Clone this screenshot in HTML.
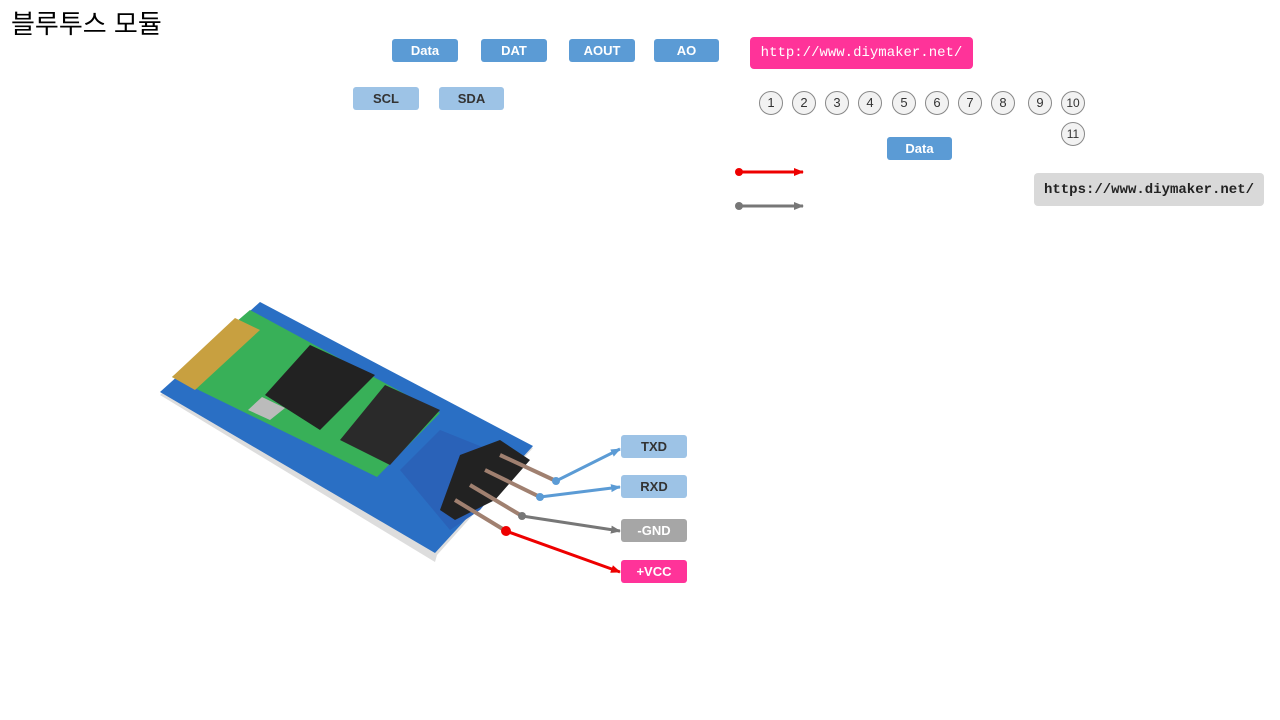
<!DOCTYPE html>
<html><head><meta charset="utf-8"><style>
body{margin:0;width:1280px;height:720px;background:#fff;position:relative;overflow:hidden;font-family:"Liberation Sans","Noto Sans CJK KR",sans-serif}
.b{position:absolute;border-radius:3px;color:#fff;font-size:13px;font-weight:bold;text-align:center;line-height:23px;height:23px}
.d{background:#5b9bd5}
.l{background:#9dc3e6;color:#333}
.c{position:absolute;width:22px;height:22px;border:1px solid #888;border-radius:50%;background:#f2f2f2;font-size:13px;text-align:center;line-height:22px;color:#333}
</style></head><body>
<div style="position:absolute;left:11px;top:4px;font-size:26px;color:#000">블루투스 모듈</div>
<div class="b d" style="left:392px;top:39px;width:66px">Data</div>
<div class="b d" style="left:481px;top:39px;width:66px">DAT</div>
<div class="b d" style="left:569px;top:39px;width:66px">AOUT</div>
<div class="b d" style="left:654px;top:39px;width:65px">AO</div>
<div class="b l" style="left:353px;top:87px;width:66px">SCL</div>
<div class="b l" style="left:439px;top:87px;width:65px">SDA</div>
<div style="position:absolute;left:750px;top:37px;width:223px;height:32px;background:#ff3399;border-radius:4px;color:#fff;font-family:'Liberation Mono',monospace;font-size:14px;line-height:33px;text-align:center">http://www.diymaker.net/</div>
<div class="c" style="left:759px;top:91px">1</div>
<div class="c" style="left:792px;top:91px">2</div>
<div class="c" style="left:825px;top:91px">3</div>
<div class="c" style="left:858px;top:91px">4</div>
<div class="c" style="left:892px;top:91px">5</div>
<div class="c" style="left:925px;top:91px">6</div>
<div class="c" style="left:958px;top:91px">7</div>
<div class="c" style="left:991px;top:91px">8</div>
<div class="c" style="left:1028px;top:91px">9</div>
<div class="c" style="left:1061px;top:91px;font-size:12px">10</div>
<div class="c" style="left:1061px;top:122px;font-size:12px">11</div>
<div class="b d" style="left:887px;top:137px;width:65px">Data</div>
<div style="position:absolute;left:1034px;top:173px;width:230px;height:33px;background:#d9d9d9;border-radius:4px;color:#222;font-family:'Liberation Mono',monospace;font-weight:bold;font-size:14px;line-height:35px;text-align:center">https://www.diymaker.net/</div>
<div class="b l" style="left:621px;top:435px;width:66px">TXD</div>
<div class="b l" style="left:621px;top:475px;width:66px">RXD</div>
<div class="b" style="left:621px;top:519px;width:66px;background:#a6a6a6">-GND</div>
<div class="b" style="left:621px;top:560px;width:66px;background:#ff3399">+VCC</div>
<svg width="1280" height="720" style="position:absolute;left:0;top:0">
<defs>
<marker id="ar" markerWidth="10" markerHeight="10" refX="9" refY="5" orient="auto" markerUnits="userSpaceOnUse"><path d="M0,1L10,5L0,9z" fill="#e00"/></marker>
<marker id="ag" markerWidth="10" markerHeight="10" refX="9" refY="5" orient="auto" markerUnits="userSpaceOnUse"><path d="M0,1L10,5L0,9z" fill="#777"/></marker>
<marker id="ab" markerWidth="10" markerHeight="10" refX="9" refY="5" orient="auto" markerUnits="userSpaceOnUse"><path d="M0,1L10,5L0,9z" fill="#5b9bd5"/></marker>
</defs>
<line x1="739" y1="172" x2="803" y2="172" stroke="#e00" stroke-width="3" marker-end="url(#ar)"/><circle cx="739" cy="172" r="4" fill="#e00"/>
<line x1="739" y1="206" x2="803" y2="206" stroke="#777" stroke-width="3" marker-end="url(#ag)"/><circle cx="739" cy="206" r="4" fill="#777"/>
<polygon points="160,395 260,302 533,448 437,555 435,562" fill="#ddd"/>
<polygon points="160,392 260,302 533,446 435,553" fill="#2a6fc4"/>
<polygon points="172,377 250,310 440,413 377,477" fill="#38b058"/>
<polygon points="172,377 235,318 260,330 195,390" fill="#c8a040"/>
<polygon points="265,395 310,345 375,375 320,430" fill="#222"/>
<polygon points="340,440 385,385 440,410 390,465" fill="#2a2a2a"/>
<polygon points="248,410 262,397 285,408 270,420" fill="#bbb"/>
<polygon points="400,470 440,430 520,462 480,510 450,530" fill="#2a62b8"/>
<polygon points="460,455 500,440 530,460 495,500 455,520 440,510" fill="#222"/>
<g stroke="#a08070" stroke-width="4">
<line x1="500" y1="455" x2="556" y2="481"/><line x1="485" y1="470" x2="540" y2="497"/>
<line x1="470" y1="485" x2="522" y2="516"/><line x1="455" y1="500" x2="506" y2="531"/>
</g>
<line x1="556" y1="481" x2="620" y2="449" stroke="#5b9bd5" stroke-width="3" marker-end="url(#ab)"/><circle cx="556" cy="481" r="4" fill="#5b9bd5"/>
<line x1="540" y1="497" x2="620" y2="487" stroke="#5b9bd5" stroke-width="3" marker-end="url(#ab)"/><circle cx="540" cy="497" r="4" fill="#5b9bd5"/>
<line x1="522" y1="516" x2="620" y2="531" stroke="#777" stroke-width="3" marker-end="url(#ag)"/><circle cx="522" cy="516" r="4" fill="#777"/>
<line x1="506" y1="531" x2="620" y2="572" stroke="#e00" stroke-width="3" marker-end="url(#ar)"/><circle cx="506" cy="531" r="5" fill="#e00"/>
</svg>
</body></html>
